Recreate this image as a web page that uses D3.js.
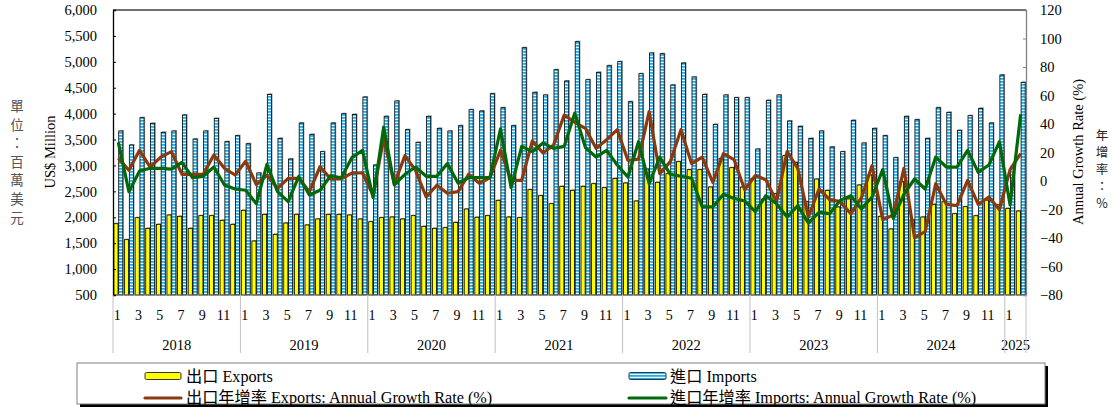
<!DOCTYPE html>
<html>
<head>
<meta charset="utf-8">
<script src="https://d3js.org/d3.v7.min.js"></script>
<style>
  body { margin: 0; background: #fff; }
  svg { display: block; }
  text { font-family: "Liberation Serif", "Times New Roman", "Noto Sans CJK TC", serif; }
  .cjk { font-family: "Noto Sans CJK TC", sans-serif; }
</style>
</head>
<body>
<script>
// year label + number of months shown for that year
const years = ["2018", "2019", "2020", "2021", "2022", "2023", "2024", "2025"];
const monthsPerYear = [12, 12, 12, 12, 12, 12, 12, 2];
const monthTicks = [1, 3, 5, 7, 9, 11];

// US$ million
const exportsData = [
  1876, 1568, 1992, 1786, 1864, 2044, 2018, 1786, 2031, 2031, 1941, 1864,
  2134, 1542, 2057, 1671, 1889, 2057, 1851, 1967, 2057, 2057, 2044, 1967,
  1915, 1992, 2005, 1967, 2031, 1825, 1786, 1799, 1902, 2159, 2000, 2031,
  2327, 2005, 1992, 2533, 2417, 2262, 2597, 2520, 2597, 2648, 2571, 2751,
  2661, 2314, 2930, 2674, 2841, 3073, 2919, 2919, 2584, 3137, 2957, 2584,
  2751, 2350, 2455, 3189, 3060, 2300, 2738, 2520, 2198, 2353, 2623, 2816,
  2018, 1774, 2687, 1950, 2005, 2250, 2301, 2069, 2204, 2030, 2330, 2240,
  2172, 2121
];
const importsData = [
  3665, 3395, 3922, 3813, 3639, 3665, 3974, 3510, 3665, 3909, 3459, 3575,
  3420, 2854, 4372, 3523, 3124, 3819, 3600, 3266, 3819, 3999, 3986, 4321,
  3009, 3948, 4244, 3691, 3446, 3948, 3716, 3665, 3768, 4077, 4051, 4385,
  4115, 3768, 5273, 4411, 4360, 4848, 4630, 5389, 4655, 4797, 4926, 5003,
  4231, 4771, 5170, 5157, 4553, 4977, 4707, 4372, 3793, 4360, 4308, 4308,
  3317, 4257, 4360, 3858, 3755, 3523, 3665, 3356, 3266, 3871, 3433, 3716,
  3575, 3150, 3948, 3884, 3523, 4115, 4025, 3678, 3961, 4102, 3819, 4746,
  2975, 4604
];
// annual growth rate, %
const exportsGrowth = [
  15.9, 7.5, 21.5, 9.8, 16.8, 20.6, 4.7, 4.7, 4.7, 18.3, 8.9, 4.2,
  13.8, -2.5, 4, -5.1, 1.9, 1.9, -7.5, 10, 1.5, 1.5, 5.5, 5.8,
  -10, 30, -2, 17.8, 7.5, -11.2, -3, -8.6, -7.5, 4.7, -1.6, 2.3,
  21.5, 0.5, 0.5, 28.1, 19.7, 25.3, 46.3, 41.2, 37, 22.9, 29, 36,
  14.5, 15.4, 48.7, 5.2, 13.6, 36, 12.2, 16.8, -0.9, 19.2, 15, -6.1,
  3.8, 0.9, -14.5, 20.6, 8.9, -25.3, -5.6, -13.1, -14.5, -23, -11.7, 10.8,
  -27.1, -23.8, 8.9, -39.8, -35.5, -1.9, -16.4, -17.3, 0.5, -16.4, -11.2, -20.1,
  8, 19.2
];
const importsGrowth = [
  27.1, -7.5, 7, 8.9, 8.9, 8.4, 13.1, 2.3, 3.3, 9.8, -2.8, -5.6,
  -6.5, -15.9, 11.7, -7.5, -14.5, 3.2, -9.8, -6.5, 3.7, 2.3, 16.4, 21.5,
  -11.7, 37.9, -2.8, 4.7, 9.8, 3.3, 3.3, 12.2, -1.4, 2.3, 2.3, 2.3,
  36.5, -4.7, 24.3, 20.6, 26.7, 22.9, 24.3, 47.7, 23.4, 16.8, 21.5, 11.2,
  2.8, 27.6, -1.9, 16.8, 4.7, 3.3, 1.9, -18.2, -18.2, -9.3, -12.2, -14,
  -21.5, -10.3, -15.9, -25.3, -17.3, -29.5, -22, -22.9, -13.6, -10.3, -19.6, -11.2,
  8, -26.2, -9.3, 1.4, -5.6, 16.8, 9.8, 9.8, 21.5, 6.1, 11.2, 27.6,
  -16.8, 46.8
];
const leftTicks = [500, 1000, 1500, 2000, 2500, 3000, 3500, 4000, 4500, 5000, 5500, 6000];
const rightTicks = [-80, -60, -40, -20, 0, 20, 40, 60, 80, 100, 120];

// category list built from the year table
const periods = [];
years.forEach((y, yi) => {
  for (let m = 1; m <= monthsPerYear[yi]; m++) periods.push({ year: y, month: m });
});

const W = 1112, H = 407;
const plotL = 113, plotR = 1026, plotT = 10, plotB = 295;

const svg = d3.select("body").append("svg").attr("width", W).attr("height", H);
const defs = svg.append("defs");
const pat = defs.append("pattern")
  .attr("id", "impPat").attr("patternUnits", "userSpaceOnUse")
  .attr("width", 6).attr("height", 3);
pat.append("rect").attr("width", 6).attr("height", 3).attr("fill", "#1fb0ea");
pat.append("rect").attr("x", 0).attr("y", 1.8).attr("width", 6).attr("height", 1.1).attr("fill", "#ffffff");

const x = d3.scaleBand().domain(d3.range(periods.length)).range([plotL, plotR]).padding(0);
const yL = d3.scaleLinear().domain([500, 6000]).range([plotB, plotT]);
const yR = d3.scaleLinear().domain([-80, 120]).range([plotB, plotT]);
const bw = x.bandwidth();
const half = bw / 2;

// bars
const bars = svg.append("g");
bars.selectAll(".shadowE").data(exportsData).enter().append("rect")
  .attr("x", (d, i) => x(i) + 1.6).attr("y", d => yL(d) - 1)
  .attr("width", half - 0.8).attr("height", d => yL(500) - yL(d) + 1)
  .attr("fill", "#9a9a9a");
bars.selectAll(".shadowI").data(importsData).enter().append("rect")
  .attr("x", (d, i) => x(i) + half + 1.1).attr("y", d => yL(d) - 1)
  .attr("width", half - 0.8).attr("height", d => yL(500) - yL(d) + 1)
  .attr("fill", "#9a9a9a");
bars.selectAll(".exp").data(exportsData).enter().append("rect")
  .attr("x", (d, i) => x(i) + 0.9).attr("y", d => yL(d))
  .attr("width", half - 1.2).attr("height", d => yL(500) - yL(d))
  .attr("fill", "#ffff00").attr("stroke", "#000").attr("stroke-width", 0.8);
bars.selectAll(".imp").data(importsData).enter().append("rect")
  .attr("x", (d, i) => x(i) + half + 0.4).attr("y", d => yL(d))
  .attr("width", half - 1.2).attr("height", d => yL(500) - yL(d))
  .attr("fill", "url(#impPat)").attr("stroke", "#000").attr("stroke-width", 0.8);

// frame
svg.append("line").attr("x1", plotL).attr("x2", plotR).attr("y1", plotT).attr("y2", plotT)
  .attr("stroke", "#404040").attr("stroke-width", 1.5);
svg.append("line").attr("x1", plotL).attr("x2", plotR).attr("y1", plotB).attr("y2", plotB)
  .attr("stroke", "#808080").attr("stroke-width", 1);

// axes
const axL = svg.append("g").attr("transform", `translate(${plotL},0)`)
  .call(d3.axisLeft(yL).tickValues(leftTicks).tickSize(-3).tickPadding(16).tickFormat(d3.format(",")));
axL.select(".domain").attr("stroke", "#000").attr("stroke-width", 1.3);
axL.selectAll("text").attr("font-size", 14.5).attr("fill", "#000")
  .style("font-family", "'Liberation Serif', serif");

const axR = svg.append("g").attr("transform", `translate(${plotR},0)`)
  .call(d3.axisRight(yR).tickValues(rightTicks).tickSize(-3).tickPadding(14));
axR.select(".domain").attr("stroke", "#808080").attr("stroke-width", 1.3);
axR.selectAll("line").attr("stroke", "#808080");
axR.selectAll("text").attr("font-size", 14.5).attr("fill", "#000")
  .style("font-family", "'Liberation Serif', serif");

// growth lines
const line = d3.line().x((d, i) => x(i) + half).y(d => yR(d));
svg.append("path").datum(exportsGrowth).attr("d", line)
  .attr("fill", "none").attr("stroke", "#8b3a10").attr("stroke-width", 3.2).attr("stroke-linejoin", "round");
svg.append("path").datum(importsGrowth).attr("d", line)
  .attr("fill", "none").attr("stroke", "#006a0b").attr("stroke-width", 3.2).attr("stroke-linejoin", "round");

// category axis: month numbers, year labels, separators
const catG = svg.append("g");
catG.selectAll(".mt").data(periods.map((p, i) => ({ p, i })).filter(d => monthTicks.includes(d.p.month)))
  .enter().append("text")
  .attr("x", d => x(d.i) + half - 1).attr("y", 319.5)
  .attr("text-anchor", "middle").attr("font-size", 14).attr("fill", "#000")
  .text(d => d.p.month);

let start = 0;
const bounds = [0];
years.forEach((y, yi) => {
  const end = start + monthsPerYear[yi];
  const x0 = x(start), x1 = end < periods.length ? x(end) : plotR;
  catG.append("text").attr("x", (x0 + x1) / 2).attr("y", 349.5)
    .attr("text-anchor", "middle").attr("font-size", 14.5).attr("fill", "#000").text(y);
  bounds.push(end);
  start = end;
});
catG.selectAll(".sep").data(bounds).enter().append("line")
  .attr("x1", d => d < periods.length ? x(d) : plotR).attr("x2", d => d < periods.length ? x(d) : plotR)
  .attr("y1", plotB).attr("y2", 353)
  .attr("stroke", "#c0c0c0").attr("stroke-width", 1);

// axis titles
svg.append("text").attr("transform", "translate(55,152) rotate(-90)")
  .attr("text-anchor", "middle").attr("font-size", 14.5).attr("fill", "#000").text("US$ Million");
svg.append("text").attr("transform", "translate(1083,152) rotate(-90)")
  .attr("text-anchor", "middle").attr("font-size", 14.5).attr("fill", "#000").text("Annual Growth Rate (%)");

const leftChars = ["單", "位", "：", "百", "萬", "美", "元"];
svg.append("g").selectAll("text").data(leftChars).enter().append("text")
  .attr("class", "cjk").attr("x", 17).attr("y", (d, i) => 111 + i * 18.6)
  .attr("text-anchor", "middle").attr("font-size", 13.5).attr("fill", "#555").text(d => d);
const rightChars = ["年", "增", "率", "：", "%"];
svg.append("g").selectAll("text").data(rightChars).enter().append("text")
  .attr("class", "cjk").attr("x", 1102).attr("y", (d, i) => 140 + i * 17)
  .attr("text-anchor", "middle").attr("font-size", 12.5).attr("fill", "#222").text(d => d);

// legend
const lg = svg.append("g");
lg.append("rect").attr("x", 80).attr("y", 366).attr("width", 968).attr("height", 41).attr("fill", "#000");
lg.append("rect").attr("x", 77).attr("y", 363).attr("width", 968).attr("height", 41)
  .attr("fill", "#fff").attr("stroke", "#808080").attr("stroke-width", 1);

lg.append("rect").attr("x", 145).attr("y", 372.5).attr("width", 36).attr("height", 7)
  .attr("rx", 1.5).attr("fill", "#ffff00").attr("stroke", "#333").attr("stroke-width", 1);
lg.append("rect").attr("x", 629).attr("y", 372.5).attr("width", 37).attr("height", 7)
  .attr("rx", 1.5).attr("fill", "url(#impPat)").attr("stroke", "#333").attr("stroke-width", 1);
lg.append("line").attr("x1", 145).attr("x2", 181).attr("y1", 398).attr("y2", 398)
  .attr("stroke", "#8b3a10").attr("stroke-width", 3.2).attr("stroke-linecap", "round");
lg.append("line").attr("x1", 629).attr("x2", 666).attr("y1", 398).attr("y2", 398)
  .attr("stroke", "#006a0b").attr("stroke-width", 3.2).attr("stroke-linecap", "round");

const legendText = [
  { x: 186, y: 381.5, t: "出口 Exports" },
  { x: 670, y: 381.5, t: "進口 Imports" },
  { x: 186, y: 403, t: "出口年增率 Exports: Annual Growth Rate (%)" },
  { x: 670, y: 403, t: "進口年增率 Imports: Annual Growth Rate (%)" }
];
lg.selectAll(".lt").data(legendText).enter().append("text")
  .attr("x", d => d.x).attr("y", d => d.y).attr("font-size", 16.2).attr("fill", "#000")
  .text(d => d.t);
</script>
</body>
</html>
